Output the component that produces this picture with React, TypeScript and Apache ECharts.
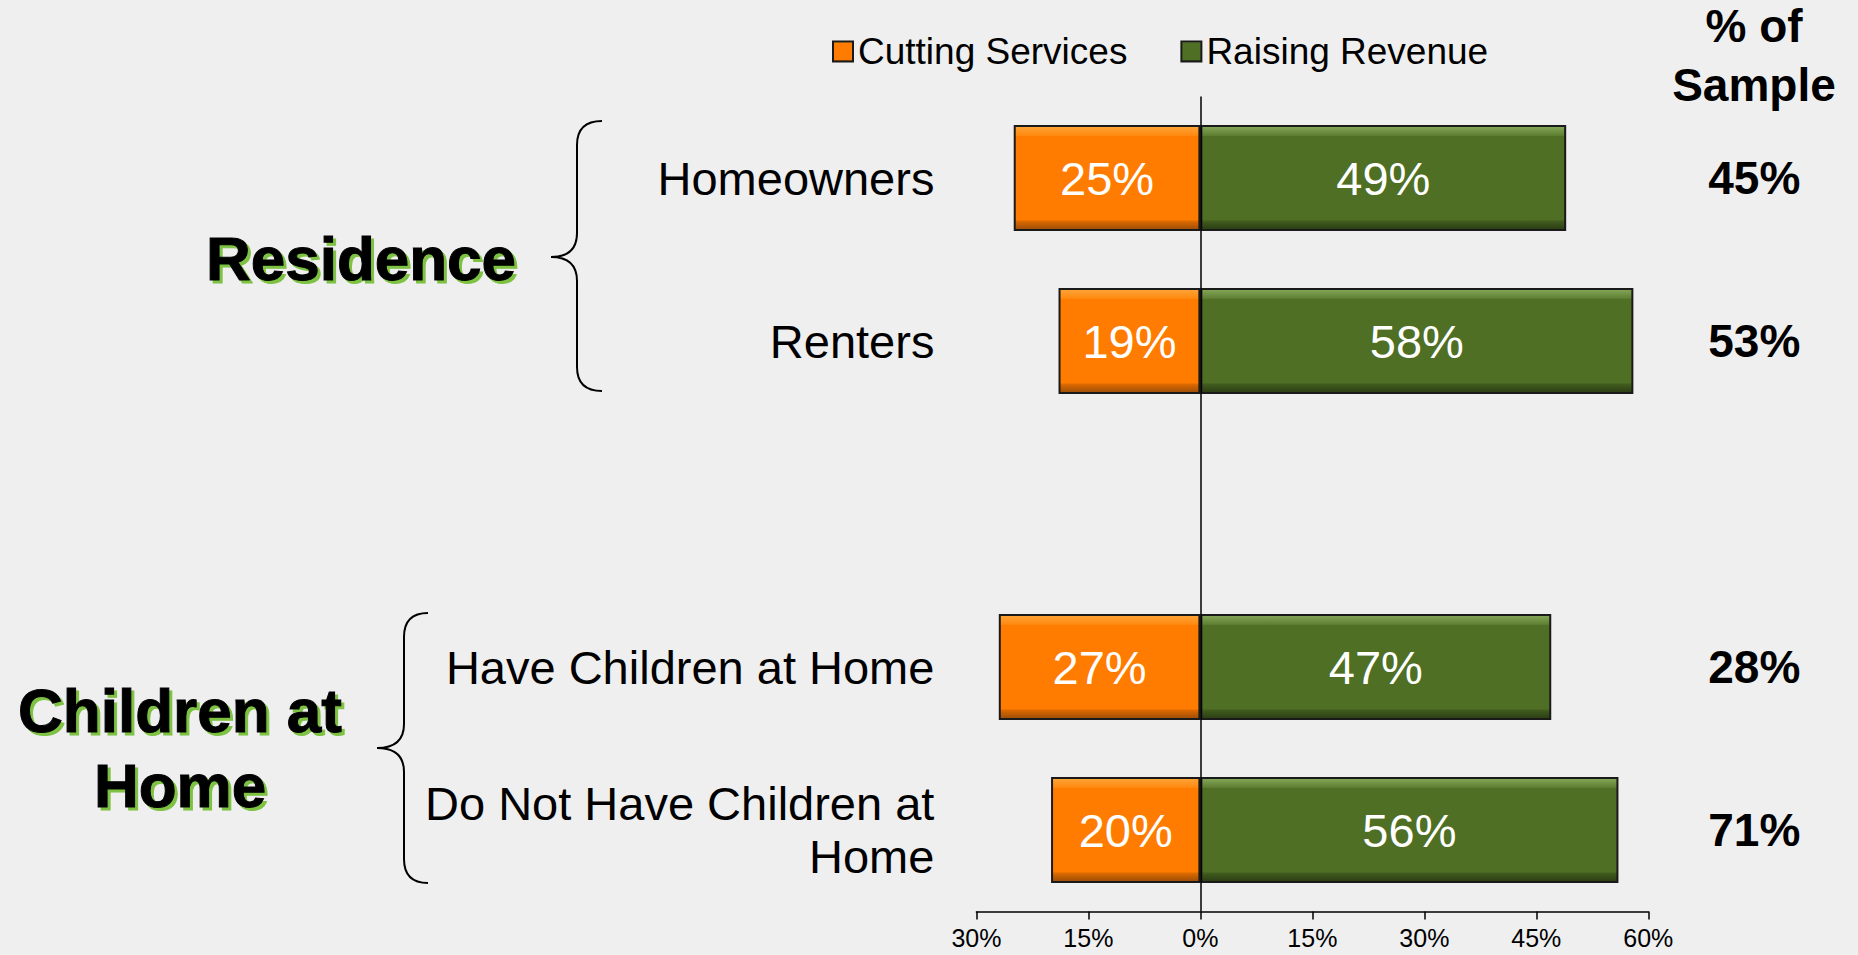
import React, { useEffect, useRef } from "react";
import * as echarts from "echarts";

const categories = [
  "Homeowners",
  "Renters",
  "",
  "Have Children at Home",
  "Do Not Have Children at\nHome",
];
const cuttingServices = [25, 19, null, 27, 20];
const raisingRevenue = [49, 58, null, 47, 56];
const sampleShare = [45, 53, null, 28, 71];
const xTicks = { min: -30, max: 60, interval: 15 };

const FONT = "'Liberation Sans', Arial, sans-serif";

echarts.graphic.registerShape(
  "braceResidence",
  echarts.graphic.extendPath(
    "M602 121 Q577 121 577 145 L577 233 Q577 257 551 257 Q577 257 577 281 L577 367 Q577 391 602 391",
    {}
  )
);
echarts.graphic.registerShape(
  "braceChildren",
  echarts.graphic.extendPath(
    "M428 613 Q404 613 404 637 L404 724 Q404 748 377 748 Q404 748 404 772 L404 859 Q404 883 428 883",
    {}
  )
);

const orangeFill = new echarts.graphic.LinearGradient(0, 0, 0, 1, [
  { offset: 0, color: "#FFA53A" },
  { offset: 0.09, color: "#FF8A10" },
  { offset: 0.1, color: "#FF7C00" },
  { offset: 0.9, color: "#FF7C00" },
  { offset: 0.92, color: "#D86800" },
  { offset: 1, color: "#9A4C08" },
]);
const greenFill = new echarts.graphic.LinearGradient(0, 0, 0, 1, [
  { offset: 0, color: "#85A85A" },
  { offset: 0.09, color: "#5F8032" },
  { offset: 0.1, color: "#4F6F25" },
  { offset: 0.9, color: "#4F6F25" },
  { offset: 0.92, color: "#3F5A1D" },
  { offset: 1, color: "#2A3C14" },
]);

function shadowedTitle(text: string, x: number, y: number, lineHeight: number) {
  const base = {
    text,
    fontSize: 62,
    fontWeight: "bold",
    fontFamily: FONT,
    lineHeight,
    align: "center",
    verticalAlign: "middle",
  };
  return {
    type: "group",
    children: [
      {
        type: "text",
        x: x + 3,
        y: y + 3,
        silent: true,
        style: { ...base, fill: "#7DC242", stroke: "#7DC242", lineWidth: 1 },
      },
      {
        type: "text",
        x,
        y,
        style: { ...base, fill: "#000", stroke: "#000", lineWidth: 1 },
      },
    ],
  };
}

export default function App() {
  const ref = useRef<HTMLDivElement>(null);

  useEffect(() => {
    document.body.style.margin = "0";
    const chart = echarts.init(ref.current!, null, { renderer: "svg" });
    const option: any = {
      animation: false,
      backgroundColor: "#EFEFEF",
      textStyle: { fontFamily: FONT, color: "#000" },
      legend: {
        data: ["Cutting Services", "Raising Revenue"],
        left: 827,
        top: 28,
        icon: "rect",
        itemWidth: 20,
        itemHeight: 20,
        itemGap: 53,
        textStyle: { fontSize: 37, color: "#000", fontFamily: FONT },
      },
      grid: { left: 976.4, right: 209.7, top: 96.5, bottom: 43.5 },
      xAxis: {
        type: "value",
        min: xTicks.min,
        max: xTicks.max,
        interval: xTicks.interval,
        splitLine: { show: false },
        axisLine: { show: true, lineStyle: { color: "#000", width: 1.5 } },
        axisTick: { show: true, length: 8, lineStyle: { color: "#000", width: 1.5 } },
        axisLabel: {
          margin: 14,
          fontSize: 25,
          color: "#000",
          fontFamily: FONT,
          formatter: (v: number) => Math.abs(v) + "%",
        },
      },
      yAxis: [
        {
          type: "category",
          inverse: true,
          data: categories,
          axisLine: { show: false },
          axisTick: { show: false },
          axisLabel: {
            margin: 42,
            fontSize: 47,
            lineHeight: 53,
            color: "#000",
            fontFamily: FONT,
            align: "right",
          },
        },
        {
          type: "category",
          inverse: true,
          position: "right",
          data: categories,
          axisLine: { show: false },
          axisTick: { show: false },
          axisLabel: {
            margin: 106,
            align: "center",
            fontSize: 46,
            fontWeight: "bold",
            color: "#000",
            fontFamily: FONT,
            formatter: (_v: string, i: number) =>
              sampleShare[i] == null ? "" : sampleShare[i] + "%",
          },
        },
      ],
      series: [
        {
          name: "Cutting Services",
          type: "bar",
          barWidth: "65%",
          barGap: "-100%",
          data: cuttingServices.map((v) => (v == null ? null : -v)),
          itemStyle: { color: orangeFill, borderColor: "#1a1a1a", borderWidth: 2 },
          label: {
            show: true,
            position: "inside",
            color: "#fff",
            fontSize: 47,
            fontFamily: FONT,
            formatter: (p: any) => Math.abs(p.value) + "%",
          },
        },
        {
          name: "Raising Revenue",
          type: "bar",
          barWidth: "65%",
          barGap: "-100%",
          data: raisingRevenue,
          itemStyle: { color: greenFill, borderColor: "#1a1a1a", borderWidth: 2 },
          label: {
            show: true,
            position: "inside",
            color: "#fff",
            fontSize: 47,
            fontFamily: FONT,
            formatter: (p: any) => p.value + "%",
          },
          markLine: {
            silent: true,
            symbol: "none",
            label: { show: false },
            lineStyle: { color: "#000", width: 1.5, type: "solid" },
            data: [{ xAxis: 0 }],
          },
        },
      ],
      graphic: [
        {
          type: "text",
          x: 1754,
          y: 55,
          style: {
            text: "% of\nSample",
            fontSize: 46,
            fontWeight: "bold",
            fontFamily: FONT,
            lineHeight: 59,
            fill: "#000",
            align: "center",
            verticalAlign: "middle",
          },
        },
        shadowedTitle("Residence", 361, 258, 70),
        shadowedTitle("Children at\nHome", 180, 748, 75),
        {
          type: "braceResidence",
          shape: {},
          style: { fill: "none", stroke: "#000", lineWidth: 2 },
        },
        {
          type: "braceChildren",
          shape: {},
          style: { fill: "none", stroke: "#000", lineWidth: 2 },
        },
      ],
    };
    chart.setOption(option);
    return () => chart.dispose();
  }, []);

  return (
    <div
      ref={ref}
      style={{ position: "fixed", left: 0, top: 0, width: 1858, height: 955, background: "#EFEFEF" }}
    />
  );
}
